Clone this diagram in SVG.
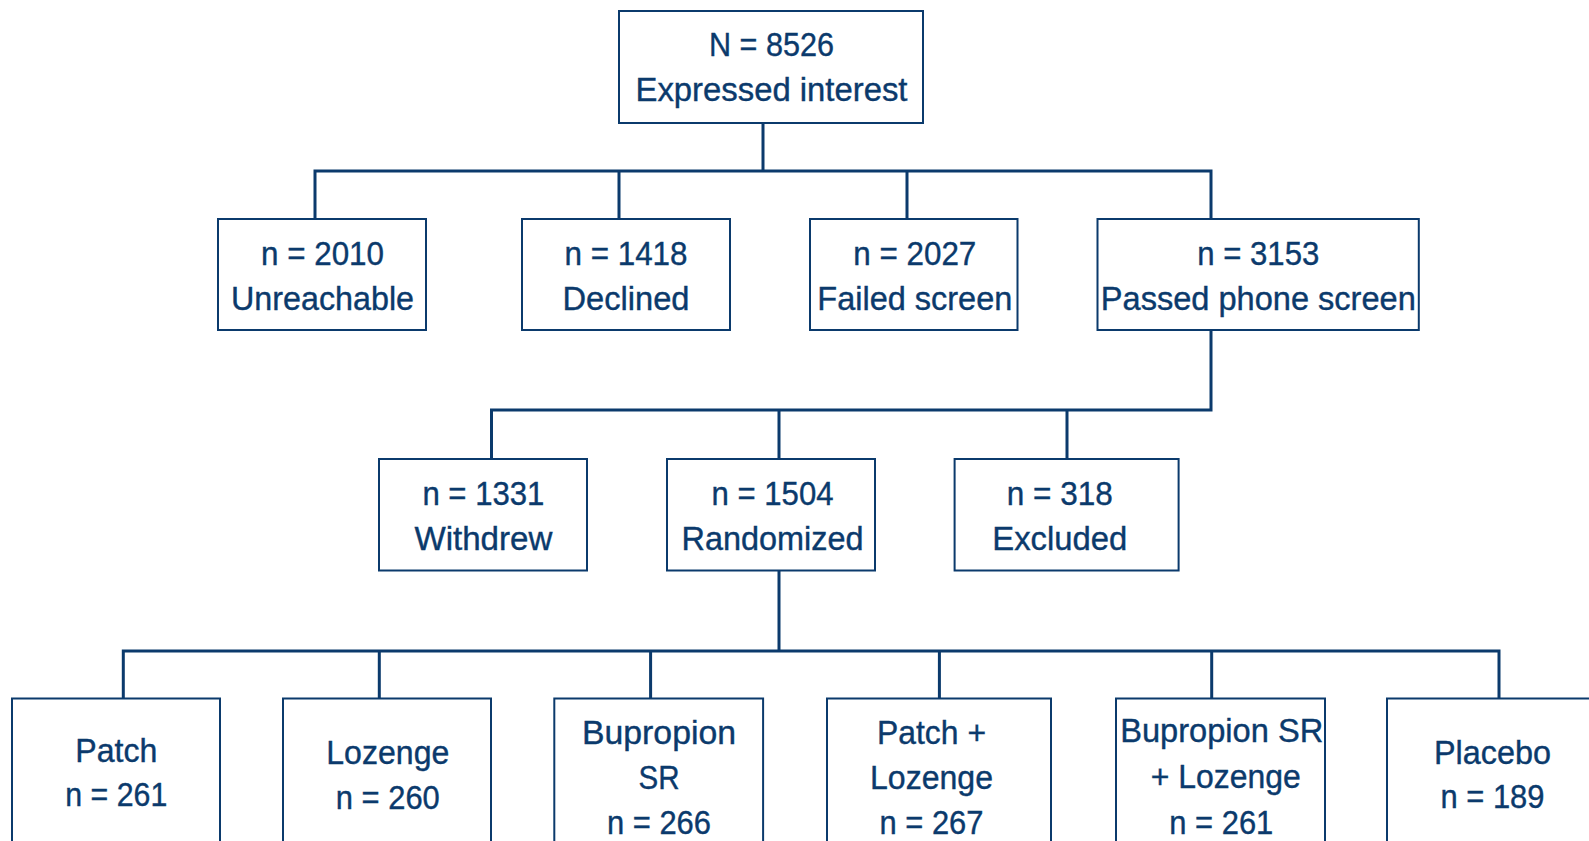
<svg xmlns="http://www.w3.org/2000/svg" width="1589" height="841" viewBox="0 0 1589 841">
<style>
.box{fill:#ffffff;stroke:#0b3a6c;stroke-width:2}
.t{font-family:"Liberation Sans",Arial,sans-serif;font-size:34px;fill:#0b3a6c;stroke:#0b3a6c;stroke-width:0.4;text-anchor:middle}
.c{fill:none;stroke:#0b3a6c;stroke-width:3;stroke-linecap:square}
</style>
<rect width="1589" height="841" fill="#ffffff"/>
<g id="connectors">
<path class="c" d="M763,123V171M315,171H1211M315,171V219M619,171V219M907,171V219M1211,171V219"/>
<path class="c" d="M1211,330V410M491.5,410H1211M491.5,410V459M779,410V459M1067,410V459"/>
<path class="c" d="M779,570.5V651M123.3,651H1499M123.3,651V698.5M379.3,651V698.5M650.6,651V698.5M939.4,651V698.5M1211.7,651V698.5M1499,651V698.5"/>
</g>
<g id="n-expressed">
<rect class="box" x="619" y="11" width="304" height="112"/>
<text class="t" x="771.5" y="56" textLength="125" lengthAdjust="spacingAndGlyphs">N = 8526</text>
<text class="t" x="771.5" y="101" textLength="272" lengthAdjust="spacingAndGlyphs">Expressed interest</text>
</g>
<g id="n-unreachable">
<rect class="box" x="218" y="219" width="208" height="111"/>
<text class="t" x="322.5" y="265" textLength="123" lengthAdjust="spacingAndGlyphs">n = 2010</text>
<text class="t" x="322.5" y="309.5" textLength="183" lengthAdjust="spacingAndGlyphs">Unreachable</text>
</g>
<g id="n-declined">
<rect class="box" x="522" y="219" width="208" height="111"/>
<text class="t" x="626" y="265" textLength="123" lengthAdjust="spacingAndGlyphs">n = 1418</text>
<text class="t" x="626" y="309.5" textLength="127" lengthAdjust="spacingAndGlyphs">Declined</text>
</g>
<g id="n-failed">
<rect class="box" x="810" y="219" width="207.5" height="111"/>
<text class="t" x="914.8" y="265" textLength="123" lengthAdjust="spacingAndGlyphs">n = 2027</text>
<text class="t" x="914.8" y="309.5" textLength="195" lengthAdjust="spacingAndGlyphs">Failed screen</text>
</g>
<g id="n-passed">
<rect class="box" x="1097.5" y="219" width="321.3" height="111"/>
<text class="t" x="1258.3" y="265" textLength="122" lengthAdjust="spacingAndGlyphs">n = 3153</text>
<text class="t" x="1258.3" y="309.5" textLength="315" lengthAdjust="spacingAndGlyphs">Passed phone screen</text>
</g>
<g id="n-withdrew">
<rect class="box" x="379" y="459" width="208" height="111.5"/>
<text class="t" x="483.4" y="505" textLength="122" lengthAdjust="spacingAndGlyphs">n = 1331</text>
<text class="t" x="483.4" y="549.5" textLength="138" lengthAdjust="spacingAndGlyphs">Withdrew</text>
</g>
<g id="n-randomized">
<rect class="box" x="667" y="459" width="208" height="111.5"/>
<text class="t" x="772.5" y="505" textLength="122" lengthAdjust="spacingAndGlyphs">n = 1504</text>
<text class="t" x="772.5" y="549.5" textLength="182" lengthAdjust="spacingAndGlyphs">Randomized</text>
</g>
<g id="n-excluded">
<rect class="box" x="954.6" y="459" width="224" height="111.5"/>
<text class="t" x="1059.8" y="505" textLength="106" lengthAdjust="spacingAndGlyphs">n = 318</text>
<text class="t" x="1059.8" y="549.5" textLength="135" lengthAdjust="spacingAndGlyphs">Excluded</text>
</g>
<g id="n-patch">
<rect class="box" x="12" y="698.5" width="208" height="170"/>
<text class="t" x="116.3" y="762" textLength="82" lengthAdjust="spacingAndGlyphs">Patch</text>
<text class="t" x="116.3" y="806" textLength="102" lengthAdjust="spacingAndGlyphs">n = 261</text>
</g>
<g id="n-lozenge">
<rect class="box" x="283" y="698.5" width="208" height="170"/>
<text class="t" x="387.8" y="764" textLength="123" lengthAdjust="spacingAndGlyphs">Lozenge</text>
<text class="t" x="387.8" y="808.5" textLength="104" lengthAdjust="spacingAndGlyphs">n = 260</text>
</g>
<g id="n-bupropion">
<rect class="box" x="554.3" y="698.5" width="208.8" height="170"/>
<text class="t" x="659" y="744" textLength="154" lengthAdjust="spacingAndGlyphs">Bupropion</text>
<text class="t" x="659" y="789" textLength="41" lengthAdjust="spacingAndGlyphs">SR</text>
<text class="t" x="659" y="834" textLength="104" lengthAdjust="spacingAndGlyphs">n = 266</text>
</g>
<g id="n-patch-lozenge">
<rect class="box" x="827" y="698.5" width="224" height="170"/>
<text class="t" x="931.5" y="744" textLength="109" lengthAdjust="spacingAndGlyphs">Patch +</text>
<text class="t" x="931.5" y="789" textLength="123" lengthAdjust="spacingAndGlyphs">Lozenge</text>
<text class="t" x="931.5" y="834" textLength="104" lengthAdjust="spacingAndGlyphs">n = 267</text>
</g>
<g id="n-bupropion-lozenge">
<rect class="box" x="1116" y="698.5" width="209" height="170"/>
<text class="t" x="1221.7" y="742" textLength="203" lengthAdjust="spacingAndGlyphs">Bupropion SR</text>
<text class="t" x="1225.8" y="788" textLength="150" lengthAdjust="spacingAndGlyphs">+ Lozenge</text>
<text class="t" x="1221.3" y="834" textLength="104" lengthAdjust="spacingAndGlyphs">n = 261</text>
</g>
<g id="n-placebo">
<rect class="box" x="1387" y="698.5" width="230" height="170"/>
<text class="t" x="1492.5" y="764" textLength="117" lengthAdjust="spacingAndGlyphs">Placebo</text>
<text class="t" x="1492.5" y="808" textLength="104" lengthAdjust="spacingAndGlyphs">n = 189</text>
</g>
</svg>
